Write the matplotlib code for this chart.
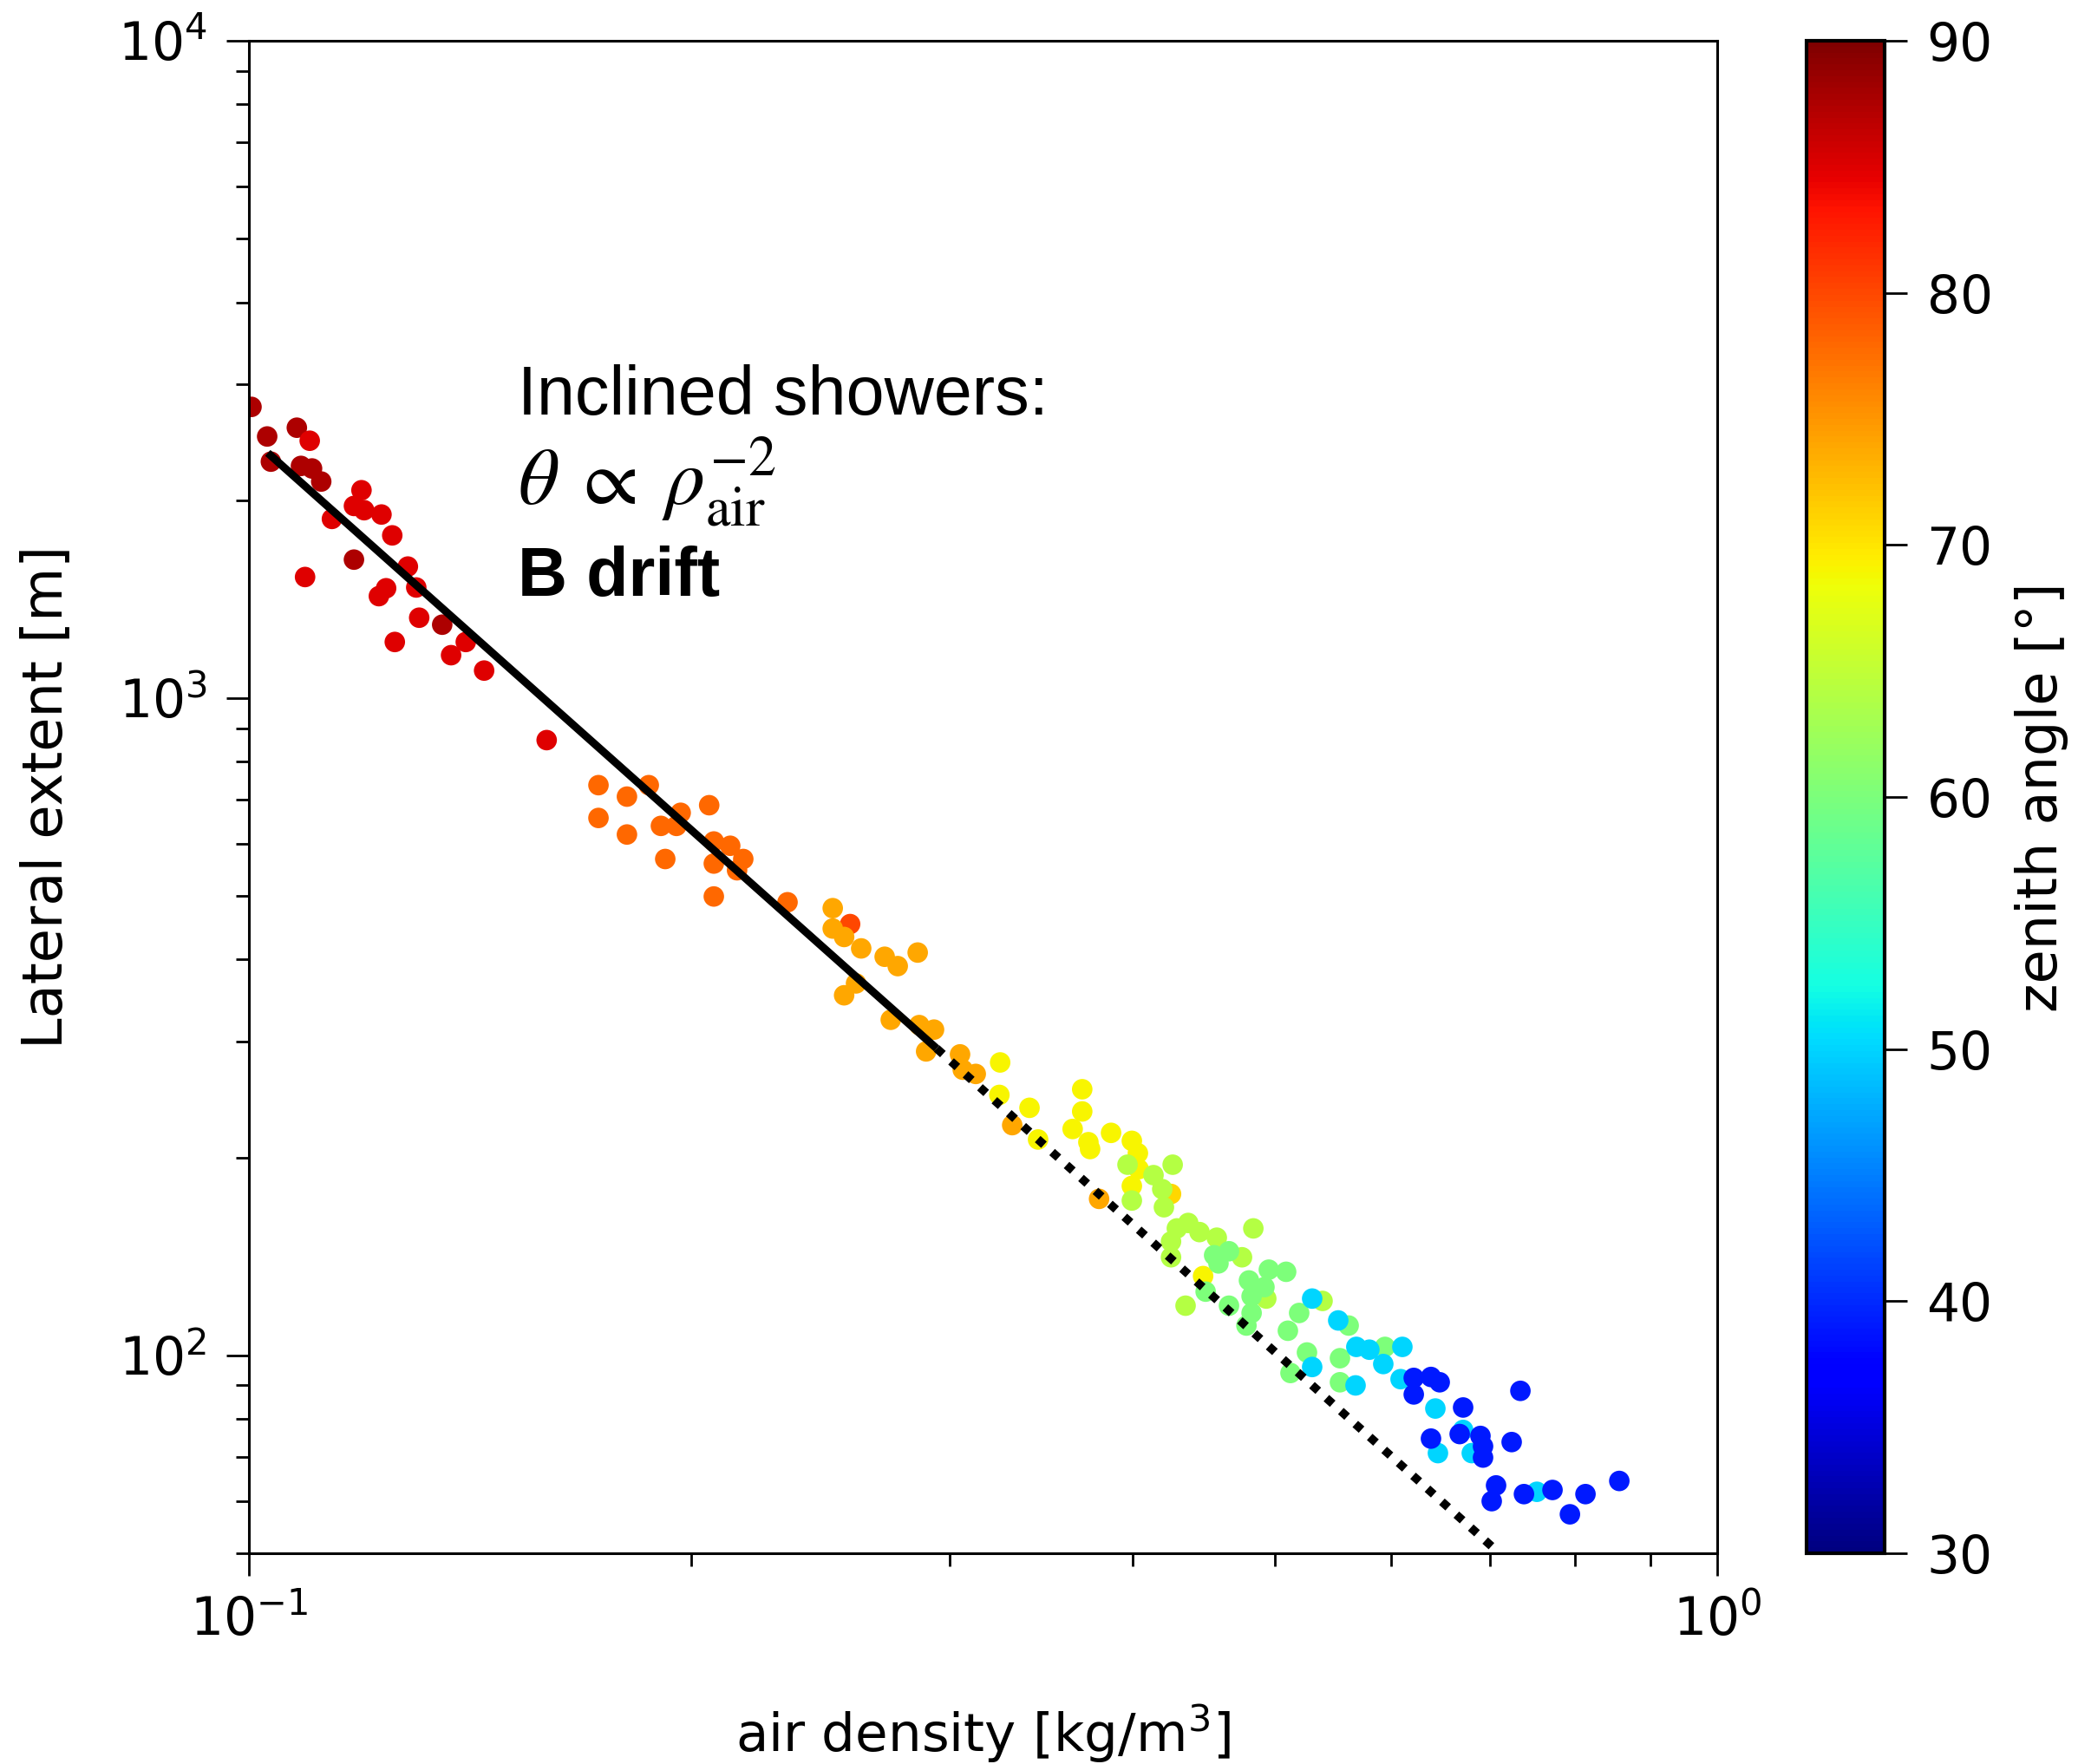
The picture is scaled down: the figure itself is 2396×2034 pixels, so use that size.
import numpy as np
import matplotlib.pyplot as plt
from matplotlib.ticker import LogLocator, NullFormatter

plt.rcParams['font.family'] = 'DejaVu Sans'

# showers, grouped by colour band: air density [kg/m^3], lateral extent [m], zenith angle [deg]
rho_red = [0.1004, 0.1029, 0.1078, 0.1100, 0.1035, 0.1085, 0.1104, 0.1120, 0.1193,
           0.1179, 0.1198, 0.1231, 0.1139, 0.1252, 0.1179, 0.1092, 0.1283, 0.1300,
           0.1226, 0.1240, 0.1306, 0.1354, 0.1257, 0.1405, 0.1373, 0.1446, 0.1595]
ext_red = [2773, 2500, 2578, 2463, 2289, 2255, 2235, 2135, 2071, 1960, 1931, 1902, 1873,
           1768, 1624, 1528, 1585, 1473, 1429, 1469, 1325, 1293, 1217, 1217, 1162, 1101, 863]
zen_red = [87.5, 87.5, 87.5, 85, 87.5, 87.5, 87.5, 87.5, 85, 85, 85, 85, 85, 85,
           87.5, 85, 85, 85, 85, 85, 85, 87.5, 85, 85, 85, 85, 85]

rho_orred = [0.1730, 0.1872, 0.1809, 0.1730, 0.1809, 0.1908, 0.1968, 0.2058, 0.1955,
             0.1921, 0.2073, 0.2127, 0.2171, 0.2073, 0.2150, 0.2073, 0.2327, 0.2567]
ext_orred = [737, 737, 708, 657, 620, 639, 669, 687, 639, 569, 605, 596, 569, 560, 547,
             499, 489, 453]
zen_orred = [78, 78, 78, 78, 78, 78, 78, 78, 78, 78, 78, 78, 78, 78, 78, 78, 78, 80]

rho_orange = [0.2498, 0.2498, 0.2543, 0.2612, 0.2710, 0.2766, 0.2854, 0.2591, 0.2543,
              0.2736, 0.2861, 0.2928, 0.2892, 0.3050, 0.3063, 0.3126, 0.3310, 0.3793]
ext_orange = [479, 446, 433, 416, 404, 391, 410, 368, 353, 324, 318, 313, 290, 287, 272,
              268, 224, 173]
zen_orange = [74, 74, 74, 74, 74, 74, 74, 74, 74, 74, 74, 74, 74, 74, 74, 74, 74, 74]

rho_yellow = [0.3248, 0.3244, 0.3401, 0.3447, 0.3694, 0.3694, 0.3639, 0.3730, 0.3740,
              0.3865, 0.3993, 0.4031, 0.4036, 0.3993, 0.4246, 0.4465]
ext_yellow = [279, 249, 238, 213, 254, 235, 221, 211, 206, 218, 212, 203, 192, 181, 176, 132]
zen_yellow = [69, 69, 69, 69, 69, 69, 69, 69, 69, 69, 69, 69, 69, 69, 71, 69]

rho_ygreen = [0.3966, 0.4257, 0.4131, 0.4188, 0.3993, 0.4199, 0.4285, 0.4362, 0.4440,
              0.4562, 0.4831, 0.4246, 0.4246, 0.4746, 0.4344, 0.4930, 0.5385]
ext_ygreen = [195, 195, 188, 179, 172, 168, 156, 159, 154, 151, 156, 149, 141, 141, 119,
              122, 121]
zen_ygreen = [64, 64, 64, 64, 64, 64, 64, 64, 64, 64, 64, 64, 64, 64, 64, 64, 64]

rho_green = [0.4543, 0.4650, 0.4574, 0.4483, 0.4650, 0.4798, 0.4818, 0.4818, 0.4779,
             0.4950, 0.5086, 0.4916, 0.5191, 0.5100, 0.5610, 0.5255, 0.5121, 0.5534,
             0.5939, 0.5534]
ext_green = [142, 144, 138, 125, 119, 130, 123, 116, 111, 135, 134, 127, 116, 109, 111,
             101, 94, 99, 103, 91]
zen_green = [60, 60, 60, 60, 60, 60, 60, 60, 60, 60, 60, 60, 60, 60, 60, 60, 60, 60, 60, 60]

rho_cyan = [0.5298, 0.5519, 0.5298, 0.5678, 0.5795, 0.5923, 0.5671, 0.6103, 0.6086,
            0.6427, 0.6453, 0.6713, 0.6805, 0.7536]
ext_cyan = [122, 113, 96, 103, 102, 97, 90, 103, 92, 83, 71, 77, 71, 62]
zen_cyan = [50, 50, 50, 50, 50, 50, 50, 50, 50, 50, 50, 50, 50, 50]

rho_blue = [0.6213, 0.6383, 0.6471, 0.6213, 0.6713, 0.7344, 0.6383, 0.6677, 0.6898,
            0.6926, 0.6926, 0.7244, 0.7069, 0.7021, 0.7385, 0.7723, 0.8133, 0.7937, 0.8576]
ext_blue = [92.4, 92.7, 91.0, 87.2, 83.3, 88.3, 74.7, 75.9, 75.4, 72.7, 69.9, 73.8, 63.4,
            60.0, 61.5, 62.4, 61.5, 57.3, 64.4]
zen_blue = [39, 39, 39, 39, 39, 39, 39, 39, 39, 39, 39, 39, 39, 39, 39, 39, 39, 39, 39]

# rho^-2 guide line: fitted part and extrapolation
fit_rho = [0.103, 0.294]
fit_ext = [2360, 293]
extra_rho = [0.294, 0.707]
extra_ext = [293, 50.5]

cbar_ticks = [30, 40, 50, 60, 70, 80, 90]

rho = np.concatenate([rho_red, rho_orred, rho_orange, rho_yellow, rho_ygreen,
                      rho_green, rho_cyan, rho_blue])
ext = np.concatenate([ext_red, ext_orred, ext_orange, ext_yellow, ext_ygreen,
                      ext_green, ext_cyan, ext_blue])
zen = np.concatenate([zen_red, zen_orred, zen_orange, zen_yellow, zen_ygreen,
                      zen_green, zen_cyan, zen_blue])


fig = plt.figure(figsize=(23.96, 20.34), dpi=100)
ax = fig.add_axes([0.1198, 0.1195, 0.7066, 0.8574])
cax = fig.add_axes([0.8693, 0.1195, 0.0376, 0.8574])

sc = ax.scatter(rho, ext, c=zen, cmap="jet", vmin=30, vmax=90, s=290, linewidths=0)

ax.plot(fit_rho, fit_ext, color="black", lw=6.5, solid_capstyle="butt")
ax.plot(extra_rho, extra_ext, color="black", lw=7, ls=(0, (1, 1.3)))

ax.set_xscale("log")
ax.set_yscale("log")
ax.set_xlim(0.1, 1.0)
ax.set_ylim(50, 1e4)

ax.xaxis.set_minor_locator(LogLocator(base=10, subs=np.arange(2, 10)))
ax.yaxis.set_minor_locator(LogLocator(base=10, subs=np.arange(2, 10)))
ax.xaxis.set_minor_formatter(NullFormatter())
ax.yaxis.set_minor_formatter(NullFormatter())

ax.tick_params(which="major", length=19, width=2, labelsize=43, pad=16)
ax.tick_params(which="minor", length=11, width=2)
for sp in ax.spines.values():
	sp.set_linewidth(2.2)

ax.set_xlabel("air density [kg/m$^3$]", fontsize=44)
ax.set_ylabel("Lateral extent [m]", fontsize=46)
ax.xaxis.set_label_coords(0.5, -0.099)
ax.xaxis.label.set_va("top")
ax.yaxis.set_label_coords(-0.12, 0.5)

ax.text(0.183, 0.753, "Inclined showers:", transform=ax.transAxes, fontsize=57,
	family=["Liberation Sans", "DejaVu Sans"], va="baseline")
ax.text(0.183, 0.693, r"$\theta\;\propto\;\rho_{\mathrm{air}}^{-2}$", transform=ax.transAxes,
	fontsize=66, math_fontfamily="stix", va="baseline")
ax.text(0.183, 0.633, "B drift", transform=ax.transAxes, fontsize=57, fontweight="bold",
	family=["Liberation Sans", "DejaVu Sans"], va="baseline")

cbar = fig.colorbar(sc, cax=cax, ticks=cbar_ticks)
cbar.outline.set_linewidth(3)
cbar.ax.tick_params(length=19, width=2, labelsize=43, pad=16)
cbar.set_label("zenith angle [°]", fontsize=46, labelpad=18)

plt.savefig("out.png", dpi=100)
plt.close()
